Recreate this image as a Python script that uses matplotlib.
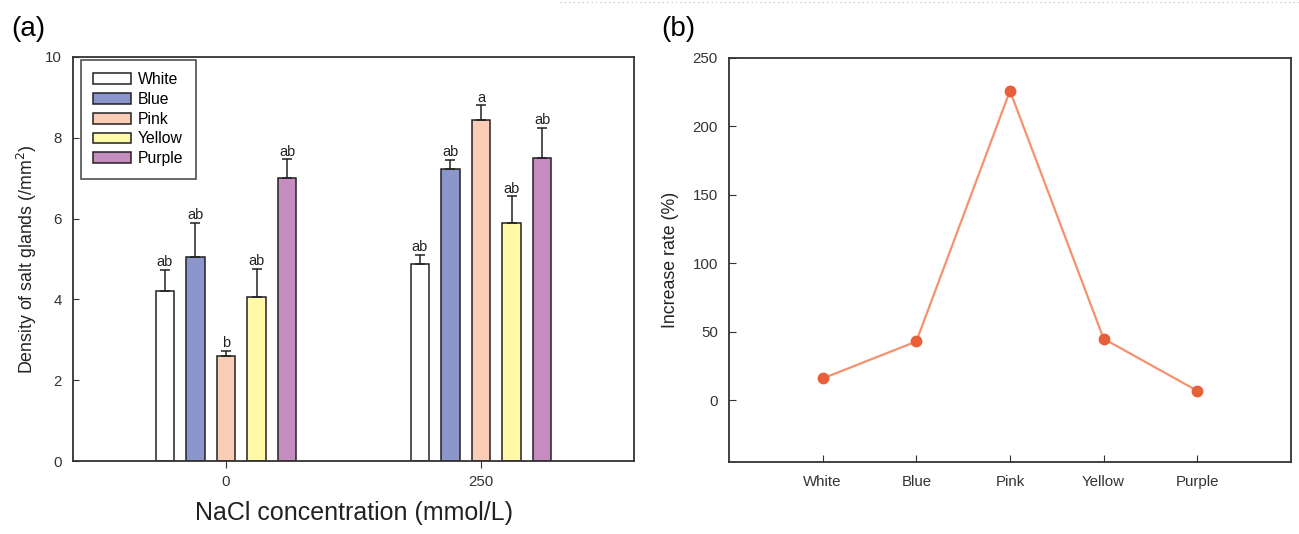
import numpy as np
import matplotlib.pyplot as plt
from matplotlib.lines import Line2D

plt.rcParams['font.family'] = ['Liberation Sans', 'DejaVu Sans']

# data
colours = ["White", "Blue", "Pink", "Yellow", "Purple"]
nacl = [0, 250]
density_0 = [4.2, 5.05, 2.6, 4.07, 7.0]
err_0 = [0.53, 0.85, 0.12, 0.68, 0.47]
density_250 = [4.87, 7.23, 8.43, 5.9, 7.5]
err_250 = [0.23, 0.22, 0.37, 0.65, 0.75]
letters_0 = ["ab", "ab", "b", "ab", "ab"]
letters_250 = ["ab", "ab", "a", "ab", "ab"]
increase_rate = [16, 43, 226, 45, 7]

bar_colors = ["#FFFFFF", "#8B97CB", "#F9CDB6", "#FFF9A8", "#C58DBF"]
edge = "#222222"
spine_col = "#333333"

fig = plt.figure(figsize=(12.99, 5.34), dpi=100)
ax1 = fig.add_axes([0.0562, 0.1367, 0.4319, 0.7566])
ax2 = fig.add_axes([0.5612, 0.1348, 0.4326, 0.7566])

# panel a
offsets = [-60, -30, 0, 30, 60]
width = 18
for i in range(len(colours)):
    xs = [nacl[0] + offsets[i], nacl[1] + offsets[i]]
    ys = [density_0[i], density_250[i]]
    es = [err_0[i], err_250[i]]
    ax1.bar(xs, ys, width=width, color=bar_colors[i], edgecolor=edge,
            linewidth=1.1, label=colours[i], zorder=2)
    ax1.errorbar(xs, ys, yerr=[[0, 0], es], fmt="none", ecolor=edge,
                 elinewidth=1.1, capsize=3.6, capthick=1.1, zorder=3)
    labs = [letters_0[i], letters_250[i]]
    for x, y, e, lab in zip(xs, ys, es, labs):
        ax1.annotate(lab, (x, y + e), xytext=(0, 0.5), textcoords="offset points",
                     ha="center", va="bottom", fontsize=10.5, color="#222222")

ax1.set_xlim(-150, 400)
ax1.set_ylim(0, 10)
ax1.set_xticks(nacl)
ax1.set_yticks([0, 2, 4, 6, 8, 10])
ax1.tick_params(axis="y", direction="in", length=4, labelsize=10.8, colors=spine_col, pad=8)
ax1.tick_params(axis="x", direction="out", length=5, labelsize=10.8, colors=spine_col, pad=5)
ax1.set_ylabel("Density of salt glands (/mm$^2$)", fontsize=12.8, color="#222222", labelpad=4)
ax1.set_xlabel("NaCl concentration (mmol/L)", fontsize=18, color="#222222", labelpad=9)
for s in ax1.spines.values():
    s.set_color(spine_col)
    s.set_linewidth(1.3)
leg = ax1.legend(loc="upper left", bbox_to_anchor=(0.014, 0.993), fontsize=11.3,
                 frameon=True, fancybox=False, edgecolor="#222222",
                 handlelength=2.4, handleheight=0.7, borderpad=0.8,
                 labelspacing=0.3, handletextpad=0.45, borderaxespad=0)
leg.get_frame().set_linewidth(1.2)

# panel b
xpos = np.arange(len(colours))
ax2.plot(xpos, increase_rate, color="#F4926F", linewidth=1.6, zorder=2)
ax2.plot(xpos, increase_rate, "o", color="#E8603A", markersize=7.5, zorder=3)
ax2.set_xlim(-1, 5)
ax2.set_ylim(-45, 250)
ax2.set_xticks(xpos)
ax2.set_xticklabels(colours)
ax2.set_yticks([0, 50, 100, 150, 200, 250])
ax2.tick_params(axis="both", direction="in", length=5, labelsize=10.8, colors=spine_col, pad=8)
ax2.tick_params(axis="x", pad=9)
ax2.set_ylabel("Increase rate (%)", fontsize=12.8, color="#222222", labelpad=10)
for s in ax2.spines.values():
    s.set_color(spine_col)
    s.set_linewidth(1.3)

# panel labels
fig.text(0.009, 0.945, "(a)", fontsize=20, va="center", ha="left")
fig.text(0.509, 0.945, "(b)", fontsize=20, va="center", ha="left")

# faint dotted rule along the top
fig.add_artist(Line2D([0.431, 1.0], [0.997, 0.997], transform=fig.transFigure,
                      color="#BBBBBB", linewidth=0.8, linestyle=(0, (1, 3))))

fig.savefig("out.png", dpi=100)
